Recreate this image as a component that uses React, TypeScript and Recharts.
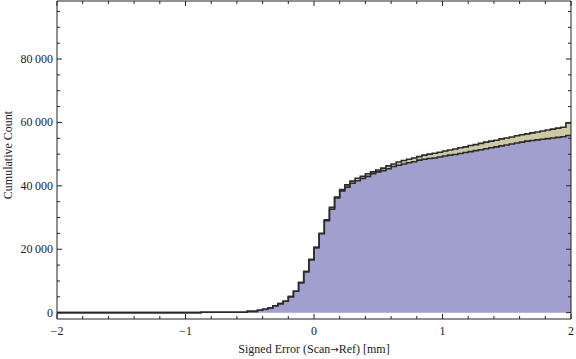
import React from 'react';
import { ComposedChart, Area, Line, XAxis, YAxis } from 'recharts';

// bin edges (bin start values, plus final edge 2.00)
const binEdges = [
  -2.0, -1.96, -1.92, -1.88, -1.84, -1.8, -1.76, -1.72, -1.68, -1.64,
  -1.6, -1.56, -1.52, -1.48, -1.44, -1.4, -1.36, -1.32, -1.28, -1.24,
  -1.2, -1.16, -1.12, -1.08, -1.04, -1.0, -0.96, -0.92, -0.88, -0.84,
  -0.8, -0.76, -0.72, -0.68, -0.64, -0.6, -0.56, -0.52, -0.48, -0.44,
  -0.4, -0.36, -0.32, -0.28, -0.24, -0.2, -0.16, -0.12, -0.08, -0.04,
  0.0, 0.04, 0.08, 0.12, 0.16, 0.2, 0.24, 0.28, 0.32, 0.36,
  0.4, 0.44, 0.48, 0.52, 0.56, 0.6, 0.64, 0.68, 0.72, 0.76,
  0.8, 0.84, 0.88, 0.92, 0.96, 1.0, 1.04, 1.08, 1.12, 1.16,
  1.2, 1.24, 1.28, 1.32, 1.36, 1.4, 1.44, 1.48, 1.52, 1.56,
  1.6, 1.64, 1.68, 1.72, 1.76, 1.8, 1.84, 1.88, 1.92, 1.96,
  2.0,
];

// cumulative count, lower (blue) dataset, per bin
const blueCounts = [
  0, 0, 0, 0, 0, 0, 0, 0, 0, 0,
  0, 0, 0, 0, 0, 0, 0, 0, 0, 0,
  0, 0, 0, 0, 0, 0, 0, 0, 150, 150,
  150, 150, 150, 150, 150, 150, 150, 400, 420, 750,
  1070, 1480, 2200, 2840, 3600, 5050, 6750, 9470, 12940, 16720,
  20500, 24900, 29000, 32600, 36200, 38400, 39600, 40800, 41600, 42300,
  43000, 43800, 44400, 44800, 45400, 46100, 46500, 46900, 47300, 47600,
  48100, 48400, 48600, 48800, 49100, 49400, 49700, 49900, 50200, 50500,
  50800, 51100, 51400, 51700, 52000, 52300, 52600, 52900, 53200, 53500,
  53800, 54100, 54300, 54500, 54700, 54900, 55100, 55300, 55500, 55900,
];

// cumulative count, stacked total (blue + tan), per bin
const totalCounts = [
  0, 0, 0, 0, 0, 0, 0, 0, 0, 0,
  0, 0, 0, 0, 0, 0, 0, 0, 0, 0,
  0, 0, 0, 0, 0, 0, 0, 0, 150, 150,
  150, 150, 150, 150, 150, 150, 150, 400, 420, 750,
  1070, 1480, 2200, 2840, 3600, 5050, 6750, 9470, 12940, 16720,
  20600, 25050, 29250, 33200, 36500, 38800, 40300, 41500, 42400, 43000,
  43800, 44400, 45000, 45600, 46300, 46900, 47500, 48000, 48400, 48800,
  49200, 49700, 50000, 50300, 50600, 51000, 51300, 51600, 52000, 52300,
  52700, 53000, 53400, 53800, 54100, 54400, 54800, 55100, 55400, 55800,
  56100, 56400, 56700, 57000, 57300, 57600, 57900, 58200, 58500, 59800,
];

const xTicks = [
  -2, -1.8, -1.6, -1.4, -1.2, -1, -0.8, -0.6, -0.4, -0.2,
  0, 0.2, 0.4, 0.6, 0.8, 1, 1.2, 1.4, 1.6, 1.8, 2,
];
const xMajorLabels: Record<string, string> = { '-2': '\u22122', '-1': '\u22121', '0': '0', '1': '1', '2': '2' };

const yTicks = [
  0, 5000, 10000, 15000, 20000, 25000, 30000, 35000, 40000, 45000,
  50000, 55000, 60000, 65000, 70000, 75000, 80000, 85000, 90000, 95000,
];
const yMajorLabels: Record<string, string> = {
  '0': '0', '20000': '20\u2009000', '40000': '40\u2009000', '60000': '60\u2009000', '80000': '80\u2009000',
};

const data = binEdges.map((x, i) => {
  const k = Math.min(i, blueCounts.length - 1);
  const blue = blueCounts[k];
  const total = totalCounts[k];
  return { x, blue, tan: total - blue, total };
});

const FONT = '"Liberation Serif", "Times New Roman", serif';
const TEXT = '#222';
const FRAME = '#222';
const EDGE = '#2b2b2b';

const isMajorX = (v: number) => Math.abs(v - Math.round(v)) < 1e-6;
const isMajorY = (v: number) => v % 20000 === 0;

const BottomTick = (p: any) => {
  const v = p.payload.value;
  const major = isMajorX(v);
  const lbl = xMajorLabels[String(Math.round(v))];
  return (
    <g>
      <line x1={p.x} y1={p.y} x2={p.x} y2={p.y - (major ? 5 : 3)} stroke={FRAME} strokeWidth={1} />
      {major && lbl !== undefined ? (
        <text x={p.x} y={p.y + 16} textAnchor="middle" fontFamily={FONT} fontSize={12} fill={TEXT}>{lbl}</text>
      ) : null}
    </g>
  );
};

const TopTick = (p: any) => {
  const v = p.payload.value;
  const major = isMajorX(v);
  return <line x1={p.x} y1={p.y} x2={p.x} y2={p.y + (major ? 5 : 3)} stroke={FRAME} strokeWidth={1} />;
};

const LeftTick = (p: any) => {
  const v = p.payload.value;
  const major = isMajorY(v);
  return (
    <g>
      <line x1={p.x} y1={p.y} x2={p.x + (major ? 5 : 3)} y2={p.y} stroke={FRAME} strokeWidth={1} />
      {major ? (
        <text x={p.x - 4} y={p.y + 4} textAnchor="end" fontFamily={FONT} fontSize={12} fill={TEXT}>{yMajorLabels[String(v)]}</text>
      ) : null}
    </g>
  );
};

const RightTick = (p: any) => {
  const v = p.payload.value;
  const major = isMajorY(v);
  return <line x1={p.x} y1={p.y} x2={p.x - (major ? 5 : 3)} y2={p.y} stroke={FRAME} strokeWidth={1} />;
};

const XLabel = (props: any) => {
  const vb = props.viewBox || {};
  const cx = (vb.x ?? 57) + (vb.width ?? 514) / 2;
  const y = (vb.y ?? 319) + 34;
  return (
    <text x={cx} y={y} textAnchor="middle" fontFamily={FONT} fontSize={12} fill={TEXT}>
      <tspan>Signed Error (Scan</tspan>
      <tspan fontFamily='"DejaVu Sans", sans-serif' fontSize={10}>{'\u2192'}</tspan>
      <tspan>Ref) [mm]</tspan>
    </text>
  );
};

const X_DOMAIN: [number, number] = [-2, 2];
const Y_DOMAIN: [number, number] = [-2000, 98300];

export default function App() {
  return (
    <div style={{ position: 'absolute', left: 0, top: 0, width: 576, height: 359, background: '#fff' }}>
      <ComposedChart
        width={576}
        height={359}
        data={data}
        margin={{ top: 0, right: 4, bottom: 0, left: 0 }}
      >
        <XAxis
          dataKey="x"
          type="number"
          domain={X_DOMAIN}
          ticks={xTicks}
          interval={0}
          allowDataOverflow
          height={40}
          tickSize={0}
          tickMargin={0}
          tickLine={false}
          axisLine={{ stroke: FRAME, strokeWidth: 1 }}
          tick={BottomTick}
          label={<XLabel />}
        />
        <XAxis
          xAxisId="top"
          orientation="top"
          dataKey="x"
          type="number"
          domain={X_DOMAIN}
          ticks={xTicks}
          interval={0}
          allowDataOverflow
          height={1}
          tickSize={0}
          tickMargin={0}
          tickLine={false}
          axisLine={{ stroke: FRAME, strokeWidth: 1 }}
          tick={TopTick}
        />
        <YAxis
          type="number"
          domain={Y_DOMAIN}
          ticks={yTicks}
          interval={0}
          allowDataOverflow
          width={57}
          tickSize={0}
          tickMargin={0}
          tickLine={false}
          axisLine={{ stroke: FRAME, strokeWidth: 1 }}
          tick={LeftTick}
          label={{ value: 'Cumulative Count', angle: -90, position: 'insideLeft', offset: 8, dy: -5, style: { textAnchor: 'middle', fontFamily: FONT, fontSize: 12, fill: TEXT } }}
        />
        <YAxis
          yAxisId="right"
          orientation="right"
          type="number"
          domain={Y_DOMAIN}
          ticks={yTicks}
          interval={0}
          allowDataOverflow
          width={1}
          tickSize={0}
          tickMargin={0}
          tickLine={false}
          axisLine={{ stroke: FRAME, strokeWidth: 1 }}
          tick={RightTick}
        />
        <Area
          type="stepAfter"
          dataKey="blue"
          stackId="s"
          fill="#a09fce"
          fillOpacity={1}
          stroke="none"
          isAnimationActive={false}
        />
        <Area
          type="stepAfter"
          dataKey="tan"
          stackId="s"
          fill="#cdc9a1"
          fillOpacity={1}
          stroke="none"
          isAnimationActive={false}
        />
        <Line type="stepAfter" dataKey="blue" stroke={EDGE} strokeWidth={1.6} dot={false} activeDot={false} isAnimationActive={false} />
        <Line type="stepAfter" dataKey="total" stroke={EDGE} strokeWidth={1.6} dot={false} activeDot={false} isAnimationActive={false} />
      </ComposedChart>
    </div>
  );
}
